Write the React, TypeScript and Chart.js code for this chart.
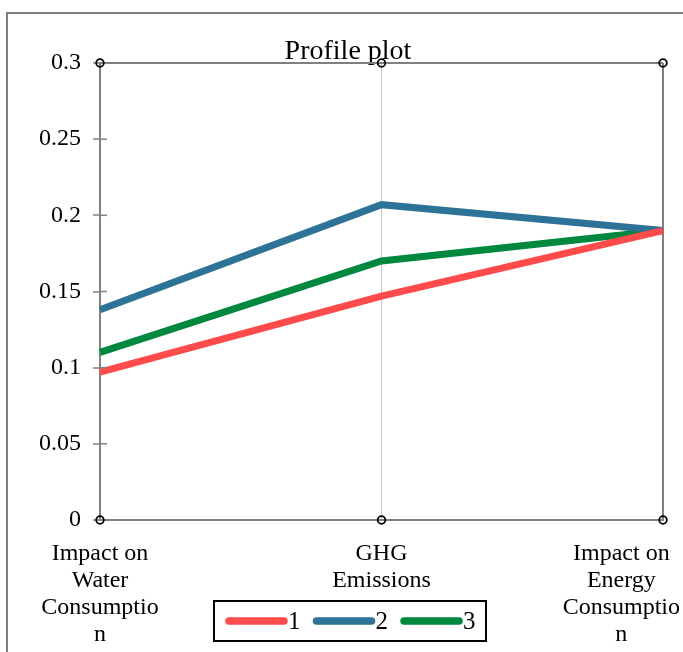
import React, { useEffect, useRef } from "react";
import { Chart, registerables } from "chart.js";

Chart.register(...registerables);

const categories: string[][] = [
  ["Impact on", "Water", "Consumptio", "n"],
  ["GHG", "Emissions"],
  ["Impact on", "Energy", "Consumptio", "n"],
];
const series1: number[] = [0.097, 0.147, 0.19];
const series2: number[] = [0.138, 0.207, 0.19];
const series3: number[] = [0.11, 0.17, 0.19];
const seriesLabels: string[] = ["1", "2", "3"];
const seriesColors: string[] = ["#FF4B4B", "#2C7397", "#00883E"];
const yTicks: number[] = [0, 0.05, 0.1, 0.15, 0.2, 0.25, 0.3];
const titleText = "Profile plot";

const FONT = "'Liberation Serif', 'Times New Roman', serif";
const AXIS = "#808080";

const decorPlugin = {
  id: "decor",
  beforeDraw(chart: any) {
    const ctx = chart.ctx;
    // keep the last category label inside the canvas
    const xs = chart.scales.x;
    const items = xs.getLabelItems();
    if (items && items.length) {
      const last = items[items.length - 1];
      const fontSize = 24;
      ctx.save();
      ctx.font = `${fontSize}px ${FONT}`;
      let w = 0;
      const lbl = Array.isArray(last.label) ? last.label : [last.label];
      lbl.forEach((s: string) => (w = Math.max(w, ctx.measureText(s).width)));
      ctx.restore();
      const maxRight = chart.width - 3;
      const x = last.options.translation[0];
      if (x + w / 2 > maxRight) last.options.translation[0] = maxRight - w / 2;
    }
    ctx.save();
    ctx.strokeStyle = AXIS;
    ctx.lineWidth = 2;
    ctx.strokeRect(7, 13, 900, 900);
    ctx.fillStyle = "#000";
    ctx.font = `28px ${FONT}`;
    ctx.textAlign = "center";
    ctx.textBaseline = "alphabetic";
    ctx.fillText(titleText, 348, 59);
    ctx.restore();
  },
  afterDatasetsDraw(chart: any) {
    const ctx = chart.ctx;
    const xs = chart.scales.x;
    const ys = chart.scales.y;
    ctx.save();
    // inner part of y tick marks
    ctx.strokeStyle = AXIS;
    ctx.lineWidth = 1.5;
    const left = chart.chartArea.left;
    yTicks.forEach((v) => {
      const py = ys.getPixelForValue(v);
      ctx.beginPath();
      ctx.moveTo(left, py);
      ctx.lineTo(left + 7, py);
      ctx.stroke();
    });
    // axis end circles
    ctx.strokeStyle = "#000";
    ctx.lineWidth = 1.8;
    for (let i = 0; i < categories.length; i++) {
      const px = xs.getPixelForValue(i);
      [yTicks[0], yTicks[yTicks.length - 1]].forEach((v) => {
        const py = ys.getPixelForValue(v);
        ctx.beginPath();
        ctx.arc(px, py, 3.8, 0, Math.PI * 2);
        ctx.stroke();
      });
    }
    ctx.restore();
  },
  afterDraw(chart: any) {
    const ctx = chart.ctx;
    ctx.save();
    ctx.strokeStyle = "#000";
    ctx.lineWidth = 2;
    ctx.strokeRect(214, 601, 272, 40);
    ctx.font = `25px ${FONT}`;
    ctx.textBaseline = "middle";
    ctx.textAlign = "left";
    ctx.fillStyle = "#000";
    chart.data.datasets.forEach((ds: any, i: number) => {
      const x0 = 229 + i * 87.5;
      const y = 621;
      ctx.strokeStyle = ds.borderColor;
      ctx.lineWidth = 7.5;
      ctx.lineCap = "round";
      ctx.beginPath();
      ctx.moveTo(x0, y);
      ctx.lineTo(x0 + 55, y);
      ctx.stroke();
      ctx.fillText(ds.label, x0 + 59, y + 1);
    });
    ctx.restore();
  },
};

export default function App() {
  const ref = useRef<HTMLCanvasElement | null>(null);
  useEffect(() => {
    if (!ref.current) return;
    const mk = (label: string, data: number[], color: string) => ({
      label,
      data,
      borderColor: color,
      backgroundColor: color,
      borderWidth: 7,
      pointRadius: 0,
      pointHoverRadius: 0,
      tension: 0,
      borderJoinStyle: "miter" as const,
      fill: false,
    });
    const chart = new Chart(ref.current, {
      type: "line",
      data: {
        labels: categories as any,
        datasets: [
          mk(seriesLabels[0], series1, seriesColors[0]),
          mk(seriesLabels[1], series2, seriesColors[1]),
          mk(seriesLabels[2], series3, seriesColors[2]),
        ],
      },
      options: {
        animation: false,
        responsive: true,
        maintainAspectRatio: false,
        events: [],
        layout: { padding: { left: 0, right: 20, top: 63, bottom: 0 } },
        plugins: {
          legend: { display: false },
          title: { display: false },
          tooltip: { enabled: false },
        },
        scales: {
          x: {
            type: "category",
            offset: false,
            grid: {
              offset: false,
              drawTicks: false,
              color: (c: any) => (c.index === 1 ? "#C8C8C8" : AXIS),
              lineWidth: (c: any) => (c.index === 1 ? 1 : 2),
            },
            border: { display: true, color: AXIS, width: 2 },
            ticks: {
              autoSkip: false,
              maxRotation: 0,
              minRotation: 0,
              padding: 20,
              color: "#000",
              font: { family: FONT, size: 24, lineHeight: 1.13 },
            },
            afterFit: (s: any) => {
              s.height = 132;
              s.paddingLeft = 0;
              s.paddingRight = 0;
            },
          },
          y: {
            min: 0,
            max: 0.3,
            afterBuildTicks: (s: any) => {
              s.ticks = yTicks.map((v) => ({ value: v }));
            },
            grid: {
              drawOnChartArea: true,
              drawTicks: true,
              tickLength: 7,
              tickColor: AXIS,
              tickWidth: 1.5,
              color: (c: any) => {
                const v = c.tick ? c.tick.value : -1;
                return v === 0.3 || v === 0 ? AXIS : "rgba(0,0,0,0)";
              },
              lineWidth: 2,
            },
            border: { display: true, color: AXIS, width: 2 },
            ticks: {
              padding: 12,
              color: "#000",
              font: { family: FONT, size: 24 },
              callback: (v: any) => String(+Number(v).toFixed(2)),
            },
            afterFit: (s: any) => {
              s.width = 100;
              s.paddingTop = 0;
              s.paddingBottom = 0;
            },
          },
        },
      },
      plugins: [decorPlugin],
    });
    return () => chart.destroy();
  }, []);
  return (
    <div style={{ position: "fixed", left: 0, top: 0, width: 683, height: 652, background: "#fff" }}>
      <canvas ref={ref} />
    </div>
  );
}
